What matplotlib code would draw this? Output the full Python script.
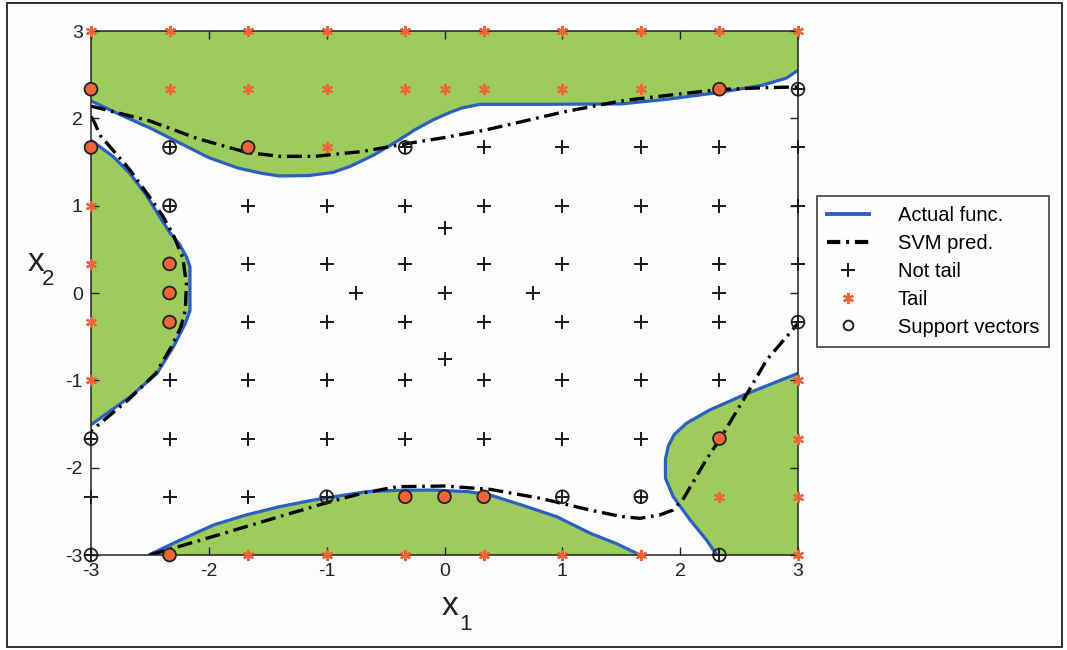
import matplotlib
matplotlib.use("Agg")
import matplotlib.pyplot as plt
from matplotlib.patches import Rectangle
from matplotlib.lines import Line2D

plt.rcParams['font.family'] = ['Liberation Sans', 'DejaVu Sans']
plt.rcParams['axes.unicode_minus'] = False

# ---------------- data ----------------
t = 1.0 / 3.0
# Not tail points (+)
notail_x = [3,
            -7/3, -1/3, 1/3, 1, 5/3, 7/3, 3,
            -7/3, -5/3, -1, -1/3, 1/3, 1, 5/3, 7/3, 3,
            0,
            -5/3, -1, -1/3, 1/3, 1, 5/3, 7/3, 3,
            -0.75, 0, 0.75, 7/3,
            -5/3, -1, -1/3, 1/3, 1, 5/3, 7/3, 3,
            0,
            -7/3, -5/3, -1, -1/3, 1/3, 1, 5/3, 7/3,
            -3, -7/3, -5/3, -1, -1/3, 1/3, 1, 5/3,
            -3, -7/3, -5/3, -1, 1, 5/3,
            -3, 7/3]
notail_y = [7/3,
            5/3, 5/3, 5/3, 5/3, 5/3, 5/3, 5/3,
            1, 1, 1, 1, 1, 1, 1, 1, 1,
            0.75,
            t, t, t, t, t, t, t, t,
            0, 0, 0, 0,
            -t, -t, -t, -t, -t, -t, -t, -t,
            -0.75,
            -1, -1, -1, -1, -1, -1, -1, -1,
            -5/3, -5/3, -5/3, -5/3, -5/3, -5/3, -5/3, -5/3,
            -7/3, -7/3, -7/3, -7/3, -7/3, -7/3,
            -3, -3]

# Tail points (*)
tail_x = [-3, -7/3, -5/3, -1, -1/3, 1/3, 1, 5/3, 7/3, 3,
          -3, -7/3, -5/3, -1, -1/3, 0, 1/3, 1, 5/3, 7/3,
          -3, -5/3, -1,
          -3,
          -3, -7/3,
          -7/3,
          -3, -7/3,
          -3, 3,
          7/3, 3,
          -1/3, 0, 1/3, 7/3, 3,
          -7/3, -5/3, -1, -1/3, 1/3, 1, 5/3, 3]
tail_y = [3, 3, 3, 3, 3, 3, 3, 3, 3, 3,
          7/3, 7/3, 7/3, 7/3, 7/3, 7/3, 7/3, 7/3, 7/3, 7/3,
          5/3, 5/3, 5/3,
          1,
          t, t,
          0,
          -t, -t,
          -1, -1,
          -5/3, -5/3,
          -7/3, -7/3, -7/3, -7/3, -7/3,
          -3, -3, -3, -3, -3, -3, -3, -3]

# Support vectors and whether they belong to the tail class
sv_x = [-3, 7/3, 3, -3, -7/3, -5/3, -1/3, -7/3, -7/3, -7/3, -7/3, 3, -3, 7/3,
        -1, -1/3, 0, 1/3, 1, 5/3, -3, -7/3, 7/3]
sv_y = [7/3, 7/3, 7/3, 5/3, 5/3, 5/3, 5/3, 1, t, 0, -t, -t, -5/3, -5/3,
        -7/3, -7/3, -7/3, -7/3, -7/3, -7/3, -3, -3, -3]
sv_tail = [1, 1, 0, 1, 0, 1, 0, 0, 1, 1, 1, 0, 0, 1,
           0, 1, 1, 1, 0, 0, 0, 1, 0]

# Actual function boundaries
top_act_x = [-3.0, -2.75, -2.5, -2.25, -2.0, -1.75, -1.55, -1.4, -1.15, -0.95, -0.8,
             -0.6, -0.4, -0.25, -0.1, 0.05, 0.15, 0.3, 0.8, 1.5, 1.9, 2.35, 2.7, 2.9, 3.0]
top_act_y = [2.20, 2.04, 1.89, 1.72, 1.55, 1.43, 1.37, 1.34, 1.345, 1.38, 1.45,
             1.58, 1.74, 1.87, 1.98, 2.07, 2.12, 2.16, 2.16, 2.165, 2.22, 2.30, 2.38, 2.46, 2.55]

left_act_x = [-3.0, -2.81, -2.67, -2.53, -2.42, -2.33, -2.25, -2.19, -2.16, -2.16,
              -2.2, -2.3, -2.44, -2.67, -2.98, -3.0]
left_act_y = [1.75, 1.56, 1.37, 1.12, 0.88, 0.69, 0.56, 0.415, 0.3, -0.2,
              -0.35, -0.615, -0.92, -1.19, -1.49, -1.51]

bot_act_x = [-2.51, -2.245, -1.96, -1.68, -1.4, -1.11, -0.83, -0.66, -0.4, -0.1,
             0.2, 0.38, 0.66, 0.95, 1.235, 1.46, 1.66]
bot_act_y = [-3.0, -2.83, -2.656, -2.54, -2.447, -2.37, -2.31, -2.275, -2.26, -2.256,
             -2.275, -2.31, -2.43, -2.56, -2.75, -2.87, -3.0]

br_act_x = [3.0, 2.82, 2.536, 2.25, 2.055, 1.95, 1.9, 1.875, 1.875, 1.94, 2.085, 2.225, 2.31]
br_act_y = [-0.92, -1.016, -1.17, -1.34, -1.49, -1.62, -1.75, -1.9, -2.12, -2.33, -2.6, -2.83, -3.0]

# SVM prediction boundaries
top_svm_x = [-3.0, -2.5, -2.1, -1.68, -1.4, -1.1, -0.7, -0.32, 0.0, 0.36, 1.0, 1.5, 2.0, 2.34, 2.7, 3.0]
top_svm_y = [2.14, 1.97, 1.77, 1.61, 1.565, 1.565, 1.62, 1.71, 1.78, 1.87, 2.07, 2.2, 2.28, 2.33, 2.35, 2.36]

left_svm_x = [-3.0, -2.97, -2.92, -2.81, -2.67, -2.53, -2.39, -2.3, -2.22, -2.19, -2.2,
              -2.24, -2.32, -2.45, -2.68, -3.0]
left_svm_y = [2.02, 1.95, 1.80, 1.63, 1.41, 1.15, 0.88, 0.66, 0.4, 0.1, -0.2,
              -0.4, -0.62, -0.92, -1.22, -1.58]

bot_svm_x = [-2.5, -2.245, -1.82, -1.4, -0.97, -0.69, -0.4, 0.0, 0.386, 0.81, 1.235,
             1.5, 1.66, 1.83, 1.94, 2.03, 2.22, 2.35, 2.536, 2.734, 2.904, 3.0]
bot_svm_y = [-3.0, -2.9, -2.73, -2.56, -2.39, -2.29, -2.218, -2.21, -2.248, -2.35, -2.485,
             -2.56, -2.58, -2.54, -2.485, -2.35, -1.91, -1.646, -1.225, -0.767, -0.5, -0.347]

xticks = [-3, -2, -1, 0, 1, 2, 3]
yticks = [-3, -2, -1, 0, 1, 2, 3]

# ---------------- style ----------------
GREEN = '#9dcb5c'
BLUE = '#2b5fc0'
ORANGE = '#f0643a'

W, H = 1067, 650
fig = plt.figure(figsize=(W / 100, H / 100), dpi=100)
fig.patch.set_facecolor('white')
border = Rectangle((7 / W, 1 - 647 / H), (1062 - 7) / W, (647 - 3) / H,
                   transform=fig.transFigure, facecolor='#fbfcfe',
                   edgecolor='#222222', linewidth=1.3, zorder=-10)
fig.patches.append(border)

ax = fig.add_axes([91 / W, 1 - 555 / H, (798 - 91) / W, (555 - 31) / H])
ax.set_zorder(1)
ax.set_facecolor('#fdfdfe')

# green tail regions
ax.fill(top_act_x + [3, -3], top_act_y + [3, 3], color=GREEN, lw=0, zorder=1)
ax.fill(left_act_x, left_act_y, color=GREEN, lw=0, zorder=1)
ax.fill(bot_act_x, bot_act_y, color=GREEN, lw=0, zorder=1)
ax.fill(br_act_x + [3], br_act_y + [-3], color=GREEN, lw=0, zorder=1)

# actual function
act_kw = dict(color=BLUE, lw=2.3, zorder=2, solid_capstyle='butt')
ax.plot(top_act_x, top_act_y, **act_kw)
ax.plot(left_act_x, left_act_y, **act_kw)
ax.plot(bot_act_x, bot_act_y, **act_kw)
ax.plot(br_act_x, br_act_y, **act_kw)

# SVM prediction
dd = (0, (4.5, 1.7, 0.8, 1.7))
svm_kw = dict(color='black', lw=2.4, ls=dd, zorder=3)
ax.plot(top_svm_x, top_svm_y, **svm_kw)
ax.plot(left_svm_x, left_svm_y, **svm_kw)
ax.plot(bot_svm_x, bot_svm_y, **svm_kw)

# points
h_nt, = ax.plot(notail_x, notail_y, ls='none', marker='+', ms=9.5, mew=1.4,
                color='#1a1a1a', zorder=5, clip_on=False)
h_t, = ax.plot(tail_x, tail_y, ls='none', marker=(6, 2, 0), ms=8, mew=1.6,
               color=ORANGE, zorder=5, clip_on=False)
sv_face = [ORANGE if s else 'none' for s in sv_tail]
ax.scatter(sv_x, sv_y, s=85, facecolors=sv_face, edgecolors='#222222',
           linewidths=1.3, zorder=6, clip_on=False)

h_act = Line2D([], [], color=BLUE, lw=2.8)
h_svm = Line2D([], [], color='black', lw=3.0, ls=(0, (3.2, 1.4, 0.7, 1.4)))
h_sv = Line2D([], [], ls='none', marker='o', ms=7, mfc='none', mec='#222222', mew=1.4)

ax.set_xlim(-3, 3)
ax.set_ylim(-3, 3)
ax.set_xticks(xticks)
ax.set_yticks(yticks)
ax.set_xticklabels([str(v) for v in xticks])
ax.set_yticklabels([str(v) for v in yticks])
ax.tick_params(direction='in', top=True, right=True, length=6, width=1,
               labelsize=14, pad=6, colors='#222222')
for sp in ax.spines.values():
    sp.set_linewidth(1.1)
    sp.set_color('#222222')
    sp.set_zorder(4)

# axis labels
fig.text(450 / W, 1 - 615 / H, 'x', fontsize=24, ha='center', va='baseline', color='#222222')
fig.text(459 / W, 1 - 630 / H, '1', fontsize=16, ha='left', va='baseline', color='#222222')
fig.text(28 / W, 1 - 271 / H, 'x', fontsize=24, ha='left', va='baseline', color='#222222')
fig.text(42 / W, 1 - 285 / H, '2', fontsize=16, ha='left', va='baseline', color='#222222')

leg = fig.legend([h_act, h_svm, h_nt, h_t, h_sv],
                 ['Actual func.', 'SVM pred.', 'Not tail', 'Tail', 'Support vectors'],
                 loc='upper left', bbox_to_anchor=(817 / W, 1 - 196 / H),
                 fontsize=14.5, frameon=True, fancybox=False, handlelength=2.1,
                 handletextpad=1.4, labelspacing=0.44, borderpad=0.5,
                 borderaxespad=0)
leg.get_frame().set_edgecolor('#222222')
leg.get_frame().set_linewidth(1.3)

fig.savefig('out.png', dpi=100)
